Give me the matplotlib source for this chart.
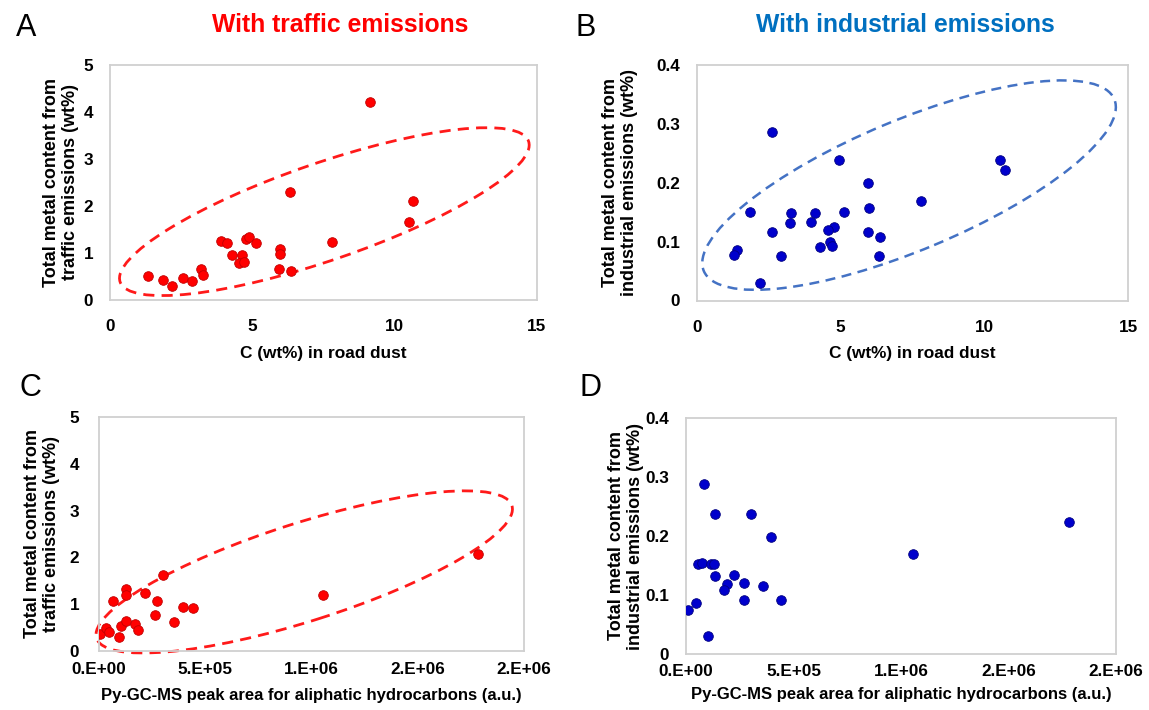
import matplotlib
matplotlib.use("Agg")
import matplotlib.pyplot as plt
from matplotlib.patches import Ellipse
from matplotlib.transforms import ScaledTranslation

plt.rcParams['font.family'] = ['Liberation Sans', 'DejaVu Sans']

# ---------------- data ----------------
# Panel A: C (wt%) vs traffic metal content (wt%)
a_x = [9.15, 6.32, 10.65, 10.51, 7.79, 3.90, 4.11, 4.78, 4.89, 5.13, 5.97, 5.97,
       4.27, 4.62, 4.54, 4.71, 5.94, 6.36, 1.35, 1.85, 2.17, 2.58, 2.89, 3.21, 3.26]
a_y = [4.21, 2.29, 2.10, 1.65, 1.24, 1.26, 1.21, 1.30, 1.33, 1.21, 1.08, 0.98,
       0.95, 0.95, 0.78, 0.80, 0.66, 0.62, 0.52, 0.43, 0.30, 0.47, 0.40, 0.67, 0.54]

# Panel B: C (wt%) vs industrial metal content (wt%)
b_x = [2.60, 4.94, 10.54, 10.71, 5.95, 7.81, 1.83, 3.27, 4.11, 5.13, 6.00, 3.22, 3.96,
       4.78, 4.55, 2.60, 5.95, 6.38, 4.63, 4.71, 4.28, 1.38, 1.30, 2.91, 6.35, 2.19]
b_y = [0.287, 0.238, 0.238, 0.222, 0.199, 0.169, 0.151, 0.149, 0.149, 0.151, 0.157,
       0.132, 0.134, 0.125, 0.119, 0.117, 0.117, 0.108, 0.100, 0.092, 0.091, 0.085,
       0.077, 0.075, 0.075, 0.029]

# Panel C: Py-GC-MS peak area vs traffic metal content
c_x = [8000, 36000, 50000, 97000, 108000, 130000, 172000, 186000, 67600, 130000,
       130000, 219000, 302000, 274000, 266000, 356000, 395000, 442000, 1054000, 1782000]
c_y = [0.36, 0.49, 0.40, 0.29, 0.53, 0.65, 0.58, 0.44, 1.06, 1.32,
       1.20, 1.23, 1.62, 1.06, 0.76, 0.63, 0.94, 0.91, 1.20, 2.07]

# Panel D: Py-GC-MS peak area vs industrial metal content
d_x = [7400, 44600, 100400, 82000, 134800, 302000, 396500, 54000, 72500, 116500,
       132000, 134800, 224500, 190600, 174800, 269600, 357900, 269600, 443000,
       1055000, 1782000]
d_y = [0.074, 0.086, 0.030, 0.288, 0.238, 0.238, 0.198, 0.153, 0.155, 0.152,
       0.152, 0.132, 0.134, 0.119, 0.109, 0.120, 0.116, 0.091, 0.091, 0.170, 0.223]

ab_xticks = [0, 5, 10, 15]
a_yticks = [0, 1, 2, 3, 4, 5]
b_yticks = [0, 0.1, 0.2, 0.3, 0.4]
b_yticklabels = ['0', '0.1', '0.2', '0.3', '0.4']
cd_xticks = [0, 500000, 1000000, 1500000, 2000000]
cd_xticklabels = ['0.E+00', '5.E+05', '1.E+06', '2.E+06', '2.E+06']

title_traffic = 'With traffic emissions'
title_industrial = 'With industrial emissions'
xlabel_ab = 'C (wt%) in road dust'
xlabel_cd = 'Py-GC-MS peak area for aliphatic hydrocarbons (a.u.)'
ylabel_traffic = 'Total metal content from\ntraffic emissions (wt%)'
ylabel_industrial = 'Total metal content from\nindustrial emissions (wt%)'

# Ellipse annotations: center (data), full width/height (pixels), angle (deg)
ell_a = dict(center=(7.53, 1.88), w=432, h=97, angle=19.0)
ell_b = dict(center=(7.38, 0.196), w=445, h=130, angle=22.7)
ell_c = dict(center=(967000, 1.69), w=436, h=98, angle=17.7)

RED = '#ff0000'
RED_EDGE = '#c00000'
BLUE = '#0000cc'
BLUE_EDGE = '#000080'

W, H = 1149, 710
fig = plt.figure(figsize=(W / 100, H / 100), dpi=100)


def add_ax(left, right, top, bottom):
    return fig.add_axes([left / W, 1 - bottom / H, (right - left) / W, (bottom - top) / H])


def style(ax):
    for s in ax.spines.values():
        s.set_color('#d0d0d0')
        s.set_linewidth(1.3)
    ax.tick_params(length=0, labelsize=12.3)
    for lab in ax.get_xticklabels() + ax.get_yticklabels():
        lab.set_fontweight('bold')


def ellipse(ax, e, color, lw):
    cx, cy = e['center']
    tr = fig.dpi_scale_trans + ScaledTranslation(cx, cy, ax.transData)
    p = Ellipse((0, 0), e['w'] / 100, e['h'] / 100, angle=e['angle'],
                transform=tr, fill=False, edgecolor=color, linewidth=lw,
                linestyle=(0, (4, 2.6)), clip_on=False)
    ax.add_patch(p)


axA = add_ax(110, 537, 65, 300)
axB = add_ax(697, 1128, 65, 300.5)
axC = add_ax(98.5, 524, 417, 651)
axD = add_ax(686, 1116, 418, 654)

# Panel A
axA.scatter(a_x, a_y, s=48, color=RED, edgecolors=RED_EDGE, linewidths=0.6, zorder=3)
axA.set_xlim(0, 15); axA.set_ylim(0, 5)
axA.set_xticks(ab_xticks); axA.set_yticks(a_yticks)
axA.tick_params(axis='x', pad=14); axA.tick_params(axis='y', pad=12)
ellipse(axA, ell_a, '#ff1a1a', 2.0)

# Panel B
axB.scatter(b_x, b_y, s=48, color=BLUE, edgecolors=BLUE_EDGE, linewidths=0.6, zorder=3)
axB.set_xlim(0, 15); axB.set_ylim(0, 0.4)
axB.set_xticks(ab_xticks); axB.set_yticks(b_yticks); axB.set_yticklabels(b_yticklabels)
axB.tick_params(axis='x', pad=14); axB.tick_params(axis='y', pad=12)
ellipse(axB, ell_b, '#4472c4', 1.8)

# Panel C
axC.scatter(c_x, c_y, s=48, color=RED, edgecolors=RED_EDGE, linewidths=0.6, zorder=3)
axC.set_xlim(0, 2000000); axC.set_ylim(0, 5)
axC.set_xticks(cd_xticks); axC.set_xticklabels(cd_xticklabels)
axC.set_yticks(a_yticks)
axC.tick_params(axis='x', pad=8); axC.tick_params(axis='y', pad=14)
ellipse(axC, ell_c, '#ff1a1a', 2.0)

# Panel D
axD.scatter(d_x, d_y, s=48, color=BLUE, edgecolors=BLUE_EDGE, linewidths=0.6, zorder=3)
axD.set_xlim(0, 2000000); axD.set_ylim(0, 0.4)
axD.set_xticks(cd_xticks); axD.set_xticklabels(cd_xticklabels)
axD.set_yticks(b_yticks); axD.set_yticklabels(b_yticklabels)
axD.tick_params(axis='x', pad=7); axD.tick_params(axis='y', pad=12)

for ax in (axA, axB, axC, axD):
    style(ax)

axA.set_xlabel(xlabel_ab, labelpad=8, fontsize=12.4, fontweight='bold')
axB.set_xlabel(xlabel_ab, labelpad=8, fontsize=12.4, fontweight='bold')
axC.set_xlabel(xlabel_cd, labelpad=8, fontsize=12, fontweight='bold')
axD.set_xlabel(xlabel_cd, labelpad=6, fontsize=12, fontweight='bold')

# y labels (two lines, rotated), centred at given figure-pixel x
ylab_kw = dict(fontsize=13, fontweight='bold', rotation=90, ha='center',
               va='center', linespacing=1.2)
for txt, xc, ax_top, ax_bot in [(ylabel_traffic, 61, 65, 300),
                                (ylabel_industrial, 620, 65, 300),
                                (ylabel_traffic, 42, 417, 651),
                                (ylabel_industrial, 626, 418, 654)]:
    fig.text(xc / W, 1 - (ax_top + ax_bot) / 2 / H, txt, **ylab_kw)

# Titles and panel letters
fig.text(340 / W, 1 - 25 / H, title_traffic, color='#ff0000', fontsize=17.8,
         fontweight='bold', ha='center', va='center')
fig.text(905 / W, 1 - 25 / H, title_industrial, color='#0070c0', fontsize=17.8,
         fontweight='bold', ha='center', va='center')
for letter, x, y in [('A', 26, 28), ('B', 586, 28), ('C', 30, 388), ('D', 590, 388)]:
    fig.text(x / W, 1 - y / H, letter, fontsize=22, ha='center', va='center')

fig.savefig('out.png', dpi=100)
